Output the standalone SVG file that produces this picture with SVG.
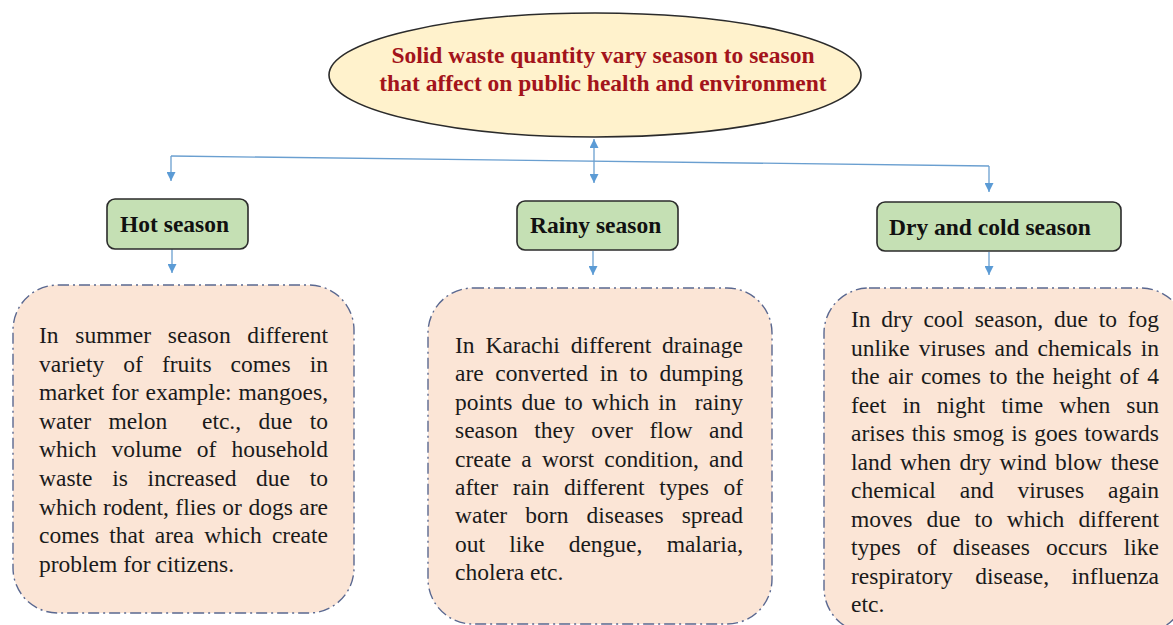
<svg xmlns="http://www.w3.org/2000/svg" width="1173" height="625" viewBox="0 0 1173 625">
<style>
.title{font-family:"Liberation Serif","Times New Roman",serif;font-weight:bold;font-size:23.5px;fill:#A3141B;text-anchor:middle}
.head{font-family:"Liberation Serif","Times New Roman",serif;font-weight:bold;font-size:23.5px;fill:#111}
.body{font-family:"Liberation Serif","Times New Roman",serif;font-size:23.5px;fill:#1a1a1a}
.hbox{fill:#C5E0B4;stroke:#2b2b2b;stroke-width:1.6}
.cbox{fill:#FBE5D6;stroke:#5A6890;stroke-width:1.4;stroke-dasharray:11 4 2 4}
.con{fill:none;stroke:#6A9FD0;stroke-width:1.3}
</style>
<defs>
<marker id="arr" viewBox="0 0 10 10" refX="10" refY="5" markerWidth="9" markerHeight="9" markerUnits="userSpaceOnUse" orient="auto-start-reverse">
<path d="M0,0 L10,5 L0,10 z" fill="#5B9BD5"/>
</marker>
</defs>
<g id="connectors">
<path class="con" d="M171,156 L989,166"/>
<path class="con" d="M171,156 L171,181" marker-end="url(#arr)"/>
<path class="con" d="M989,166 L989,192" marker-end="url(#arr)"/>
<path class="con" d="M594,139 L594,183" marker-start="url(#arr)" marker-end="url(#arr)"/>
<path class="con" d="M172,249 L172,273" marker-end="url(#arr)"/>
<path class="con" d="M593,251 L593,275" marker-end="url(#arr)"/>
<path class="con" d="M989,252 L989,275" marker-end="url(#arr)"/>
</g>
<g id="root">
<ellipse cx="595" cy="75" rx="266" ry="62" fill="#FFF2CC" stroke="#2b2b2b" stroke-width="1.6"/>
<text class="title" x="603" y="63">Solid waste quantity vary season to season</text>
<text class="title" x="603" y="91">that affect on public health and environment</text>
</g>
<g id="hot">
<rect class="hbox" x="107" y="199" width="141" height="50" rx="8"/>
<text class="head" x="120" y="232">Hot season</text>
</g>
<g id="rainy">
<rect class="hbox" x="517" y="201" width="161" height="49" rx="8"/>
<text class="head" x="530" y="233">Rainy season</text>
</g>
<g id="dry">
<rect class="hbox" x="877" y="202" width="244" height="49" rx="8"/>
<text class="head" x="889" y="235">Dry and cold season</text>
</g>
<g id="hot-text">
<rect class="cbox" x="13" y="285" width="341" height="328" rx="45"/>
<text class="body">
<tspan x="39" y="343" word-spacing="10.8" textLength="289" lengthAdjust="spacing">In summer season different</tspan>
<tspan x="39" y="371.6" word-spacing="13.2" textLength="289" lengthAdjust="spacing">variety of fruits comes in</tspan>
<tspan x="39" y="400.2" word-spacing="1" textLength="289" lengthAdjust="spacing">market for example: mangoes,</tspan>
<tspan x="39" y="428.8" word-spacing="11.5" textLength="289" lengthAdjust="spacing">water melon&#160; etc., due to</tspan>
<tspan x="39" y="457.4" word-spacing="9.1" textLength="289" lengthAdjust="spacing">which volume of household</tspan>
<tspan x="39" y="486" word-spacing="13.8" textLength="289" lengthAdjust="spacing">waste is increased due to</tspan>
<tspan x="39" y="514.6" word-spacing="0.6" textLength="289" lengthAdjust="spacing">which rodent, flies or dogs are</tspan>
<tspan x="39" y="543.2" word-spacing="4.4" textLength="289" lengthAdjust="spacing">comes that area which create</tspan>
<tspan x="39" y="571.8">problem for citizens.</tspan>
</text>
</g>
<g id="rainy-text">
<rect class="cbox" x="428" y="288" width="344" height="336" rx="45"/>
<text class="body">
<tspan x="455" y="353" word-spacing="4.9" textLength="288" lengthAdjust="spacing">In Karachi different drainage</tspan>
<tspan x="455" y="381.4" word-spacing="5.75" textLength="288" lengthAdjust="spacing">are converted in to dumping</tspan>
<tspan x="455" y="409.8" word-spacing="3.2" textLength="288" lengthAdjust="spacing">points due to which in&#160; rainy</tspan>
<tspan x="455" y="438.2" word-spacing="10.65" textLength="288" lengthAdjust="spacing">season they over flow and</tspan>
<tspan x="455" y="466.6" word-spacing="4.3" textLength="288" lengthAdjust="spacing">create a worst condition, and</tspan>
<tspan x="455" y="495" word-spacing="8.7" textLength="288" lengthAdjust="spacing">after rain different types of</tspan>
<tspan x="455" y="523.4" word-spacing="12.3" textLength="288" lengthAdjust="spacing">water born diseases spread</tspan>
<tspan x="455" y="551.8" word-spacing="18.3" textLength="288" lengthAdjust="spacing">out like dengue, malaria,</tspan>
<tspan x="455" y="580.2">cholera etc.</tspan>
</text>
</g>
<g id="dry-text">
<rect class="cbox" x="824" y="288" width="362" height="345" rx="45"/>
<text class="body">
<tspan x="851" y="327" word-spacing="4.9" textLength="308" lengthAdjust="spacing">In dry cool season, due to fog</tspan>
<tspan x="851" y="355.5" word-spacing="3.25" textLength="308" lengthAdjust="spacing">unlike viruses and chemicals in</tspan>
<tspan x="851" y="384" word-spacing="2.3" textLength="308" lengthAdjust="spacing">the air comes to the height of 4</tspan>
<tspan x="851" y="412.5" word-spacing="10.3" textLength="308" lengthAdjust="spacing">feet in night time when sun</tspan>
<tspan x="851" y="441" word-spacing="1.4" textLength="308" lengthAdjust="spacing">arises this smog is goes towards</tspan>
<tspan x="851" y="469.5" word-spacing="2.7" textLength="308" lengthAdjust="spacing">land when dry wind blow these</tspan>
<tspan x="851" y="498" word-spacing="18" textLength="308" lengthAdjust="spacing">chemical and viruses again</tspan>
<tspan x="851" y="526.5" word-spacing="8.15" textLength="308" lengthAdjust="spacing">moves due to which different</tspan>
<tspan x="851" y="555" word-spacing="10.4" textLength="308" lengthAdjust="spacing">types of diseases occurs like</tspan>
<tspan x="851" y="583.5" word-spacing="16.6" textLength="308" lengthAdjust="spacing">respiratory disease, influenza</tspan>
<tspan x="851" y="612">etc.</tspan>
</text>
</g>
</svg>
